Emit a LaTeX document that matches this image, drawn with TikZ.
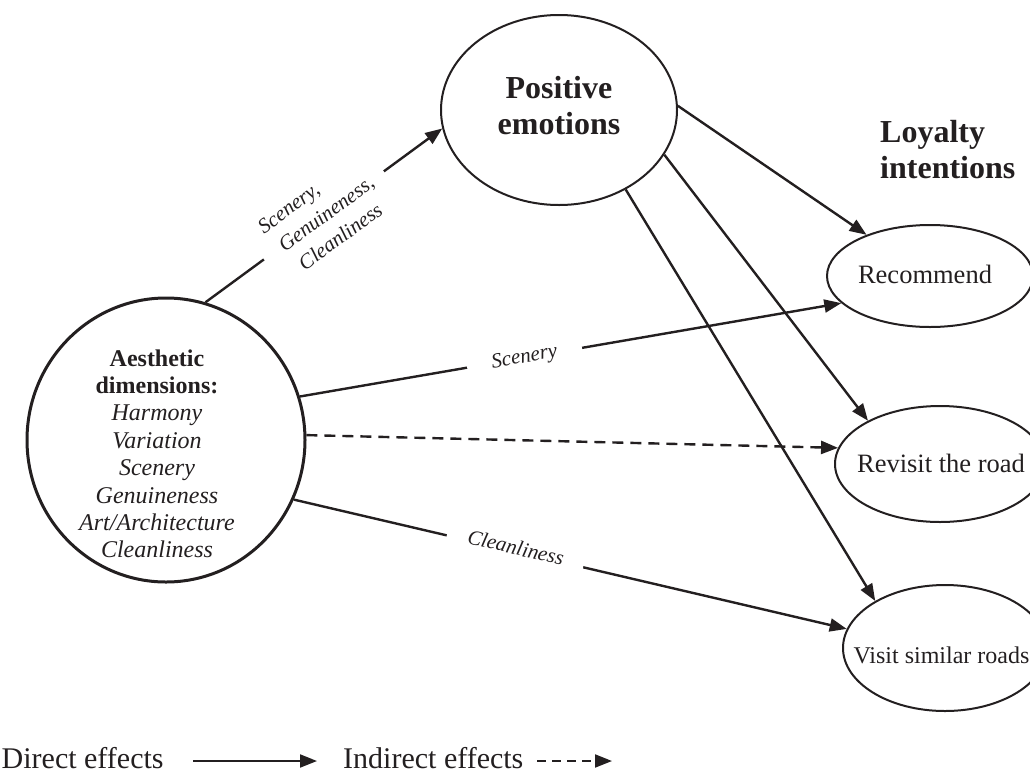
\documentclass[tikz,border=0pt]{standalone}
\usepackage{fontspec}
\setmainfont{Liberation Serif}
\usetikzlibrary{arrows.meta,shapes.geometric}
\definecolor{ink}{HTML}{231F20}

\begin{document}
\begin{tikzpicture}[x=1pt,y=-1pt,
  oval/.style={draw=ink, ellipse, inner sep=0pt, line width=2pt},
  link/.style={draw=ink, line width=2.4pt, -{Triangle[length=17pt,width=13pt]}},
  indirect/.style={link, dash pattern=on 11pt off 7pt},
  tag/.style={fill=white, text=ink, inner ysep=1pt, sloped,
    font=\fontsize{21}{27}\selectfont\itshape},
  txt/.style={inner sep=0pt, text=ink},
  headfont/.style={font=\fontsize{32}{36}\selectfont\bfseries},
  itemfont/.style={font=\fontsize{26.5}{30}\selectfont},
  legendfont/.style={font=\fontsize{30}{34}\selectfont},
]
\useasboundingbox (0,0) rectangle (1030,774);
\clip (0,0) rectangle (1030,774);

% constructs
\node[oval, line width=3pt, minimum width=278pt, minimum height=284pt] (aes) at (166,440) {};
\node[oval, minimum width=236pt, minimum height=190pt] (pos) at (559,110) {};
\node[oval, minimum width=206pt, minimum height=102pt] (rec) at (930,276) {};
\node[oval, minimum width=210pt, minimum height=116pt] (rev) at (940,464) {};
\node[oval, minimum width=204pt, minimum height=126pt] (vis) at (945,648) {};

% texts inside the constructs
\node[txt, align=center, font=\fontsize{24}{27.4}\selectfont] (aesT) at (157,453.8)
  {\textbf{Aesthetic}\\\textbf{dimensions:}\\\textit{Harmony}\\\textit{Variation}\\
   \textit{Scenery}\\\textit{Genuineness}\\\textit{Art/Architecture}\\\textit{Cleanliness}};
\node[txt, headfont, align=center] (posT) at (559,105.5) {Positive\\emotions};
\node[txt, headfont, align=left, anchor=west] (loyT) at (880,149.5) {Loyalty\\intentions};
\node[txt, itemfont, anchor=base] (recT) at (925,283) {Recommend};
\node[txt, itemfont, anchor=base] (revT) at (941,472) {Revisit the road};
\node[txt, font=\fontsize{24}{28}\selectfont, anchor=base] (visT) at (941.5,663) {Visit similar roads};

% effects of aesthetic dimensions
\draw[link] (aes.74) -- node[tag, pos=0.5, align=left, inner xsep=15pt]
  {Scenery,\\\hspace*{6pt}Genuineness,\\\hspace*{11pt}Cleanliness} (pos.189);
\draw[link] (aes.18.8) -- node[tag, pos=0.415, inner xsep=25pt] {Scenery} (rec.197);
\draw[indirect] (aes.2.8) -- (rev.171);
\draw[link] (aes.-25.5) -- node[tag, pos=0.40, inner xsep=21pt, yshift=4pt] {Cleanliness} (vis.169);

% effects of positive emotions
\draw[link] (pos.2) -- (rec.147);
\draw[link] (pos.-23.9) -- (rev.149);
\draw[link] (pos.-50) -- (vis.146);

% legend
\node[txt, legendfont, anchor=base west] (dlab) at (1.5,768) {Direct effects};
\coordinate (d1) at (193,761);
\coordinate (d2) at (317,761);
\draw[link, line width=2pt] (d1) -- (d2);
\node[txt, legendfont, anchor=base west] (ilab) at (343,768) {Indirect effects};
\coordinate (i1) at (537,761);
\coordinate (i2) at (612,761);
\draw[indirect, line width=2pt, dash pattern=on 9pt off 6pt] (i1) -- (i2);
\end{tikzpicture}
\end{document}
